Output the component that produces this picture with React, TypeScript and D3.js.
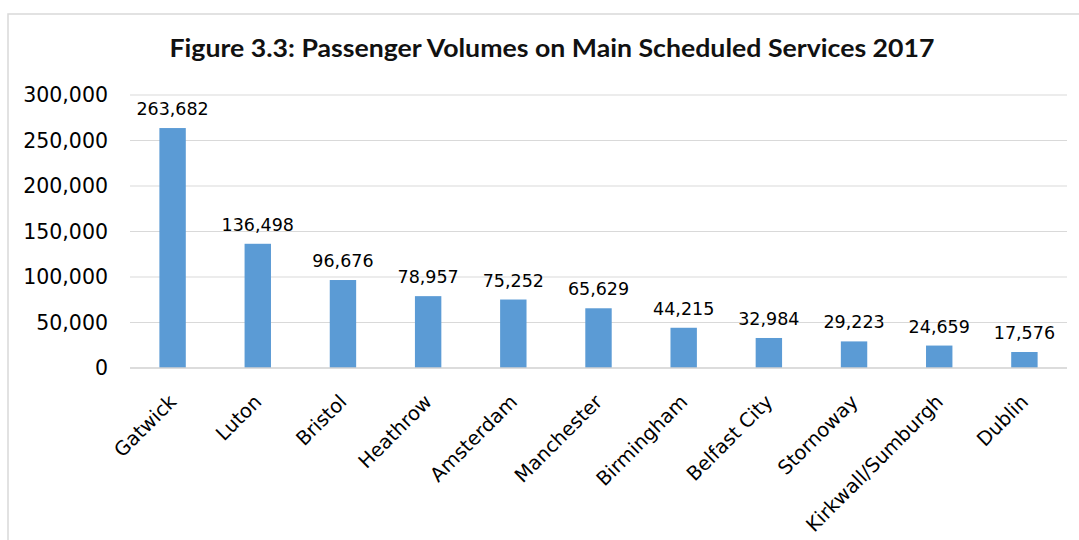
import React from "react";
import * as d3 from "d3";

const categories = ["Gatwick", "Luton", "Bristol", "Heathrow", "Amsterdam", "Manchester", "Birmingham", "Belfast City", "Stornoway", "Kirkwall/Sumburgh", "Dublin"];
const passengers = [263682, 136498, 96676, 78957, 75252, 65629, 44215, 32984, 29223, 24659, 17576];
const yTicks = [0, 50000, 100000, 150000, 200000, 250000, 300000];
const title = "Figure 3.3: Passenger Volumes on Main Scheduled Services 2017";

const W = 1079, H = 540;
const plotLeft = 130, plotRight = 1067, plotTop = 95, plotBottom = 368;
const FONT = "'DejaVu Sans', 'Noto Sans', sans-serif";

export default function App() {
  const x = d3.scaleBand<string>().domain(categories).range([plotLeft, plotRight]).paddingInner(0.69).paddingOuter(0.345);
  const y = d3.scaleLinear().domain([0, 300000]).range([plotBottom, plotTop]);
  const fmt = d3.format(",");
  return (
    <svg width={W} height={H} style={{ position: "absolute", left: 0, top: 0, background: "#fff" }} fontFamily={FONT}>
      <rect x={8} y={14} width={W + 20} height={H + 20} fill="#fff" stroke="#d9d9d9" strokeWidth={1.5} />
      <text x={552} y={57} textAnchor="middle" fontSize={24} fontWeight="bold" fontFamily="Lato, sans-serif" fill="#111" textLength={765} lengthAdjust="spacingAndGlyphs">{title}</text>
      {yTicks.map((t) => (
        <g key={t}>
          {t !== 0 && <line x1={plotLeft} x2={plotRight} y1={y(t)} y2={y(t)} stroke="#d9d9d9" strokeWidth={1} />}
          <text x={108} y={y(t)} dy="0.36em" textAnchor="end" fontSize={20.5} fill="#000">{fmt(t)}</text>
        </g>
      ))}
      {categories.map((c, i) => (
        <rect key={c} x={x(c)} y={y(passengers[i])} width={x.bandwidth()} height={y(0) - y(passengers[i])} fill="#5b9bd5" />
      ))}
      <line x1={plotLeft} x2={plotRight} y1={y(0)} y2={y(0)} stroke="#d0d0d0" strokeWidth={1.5} />
      {categories.map((c, i) => (
        <text key={c + "v"} x={(x(c) as number) + x.bandwidth() / 2} y={y(passengers[i]) - 13} textAnchor="middle" fontSize={17.5} fill="#000">{fmt(passengers[i])}</text>
      ))}
      {categories.map((c) => {
        const cx = (x(c) as number) + x.bandwidth() / 2;
        return (
          <text key={c + "l"} transform={`translate(${cx + 5},${403}) rotate(-45)`} textAnchor="end" fontSize={19.5} fill="#000">{c}</text>
        );
      })}
    </svg>
  );
}
